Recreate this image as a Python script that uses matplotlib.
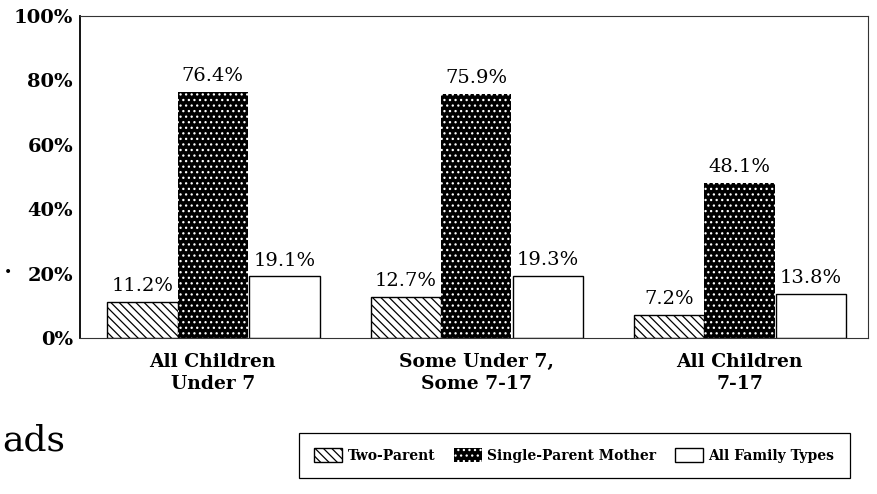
import matplotlib
matplotlib.use("Agg")
import matplotlib.pyplot as plt
import numpy as np

# Data
categories = ["All Children\nUnder 7", "Some Under 7,\nSome 7-17", "All Children\n7-17"]
two_parent = [11.2, 12.7, 7.2]
single_mother = [76.4, 75.9, 48.1]
all_families = [19.1, 19.3, 13.8]
series_names = ["Two-Parent", "Single-Parent Mother", "All Family Types"]
y_ticks = [0, 20, 40, 60, 80, 100]
y_tick_labels = ["0%", "20%", "40%", "60%", "80%", "100%"]

plt.rcParams["hatch.linewidth"] = 0.9
serif = "DejaVu Serif"

fig = plt.figure(figsize=(8.77, 4.94), dpi=100)
ax = fig.add_axes([0.0912, 0.3158, 0.8985, 0.6518])

group_x = np.arange(3) * 3.71
width = 0.99

b1 = ax.bar(group_x - 0.99, two_parent, width, facecolor="white",
            edgecolor="black", hatch="\\\\\\\\", linewidth=1.0)
b2 = ax.bar(group_x, single_mother, width, facecolor="black",
            edgecolor="white", hatch="...", linewidth=0)
b3 = ax.bar(group_x + 1.01, all_families, width, facecolor="white",
            edgecolor="black", linewidth=1.0)

for bars, vals in [(b1, two_parent), (b2, single_mother), (b3, all_families)]:
    for rect, v in zip(bars, vals):
        ax.annotate(f"{v}%", (rect.get_x() + rect.get_width() / 2, v),
                    xytext=(0, 5), textcoords="offset points",
                    ha="center", va="bottom", fontsize=14, family=serif)

ax.set_xlim(-1.87, 9.23)
ax.set_ylim(0, 100)
ax.set_yticks(y_ticks)
ax.set_yticklabels(y_tick_labels, family=serif, fontweight="bold", fontsize=14)
ax.set_xticks(group_x)
ax.set_xticklabels(categories, family=serif, fontweight="bold", fontsize=13.5,
                   linespacing=1.25)
ax.tick_params(axis="both", length=0)
ax.tick_params(axis="x", pad=11)
ax.tick_params(axis="y", pad=5)

ax.spines["left"].set_linewidth(1.3)
for side in ["top", "right", "bottom"]:
    ax.spines[side].set_linewidth(0.8)
    ax.spines[side].set_color("#333333")

leg = fig.legend([b1, b2, b3], series_names, loc="center",
                 bbox_to_anchor=(0.333, 0.034, 0.644, 0.089), mode="expand",
                 ncol=3, frameon=True, fancybox=False, edgecolor="black",
                 framealpha=1, handlelength=2.0, handleheight=1.2,
                 handletextpad=0.4, borderpad=1.1,
                 prop={"family": serif, "size": 10, "weight": "bold"})
leg.get_frame().set_linewidth(0.9)

fig.text(0.002, 0.088, "ads", fontsize=26, family=serif, va="baseline")
fig.text(0.004, 0.449, "\u2022", fontsize=10, va="center")

fig.savefig("out.png", dpi=100)
